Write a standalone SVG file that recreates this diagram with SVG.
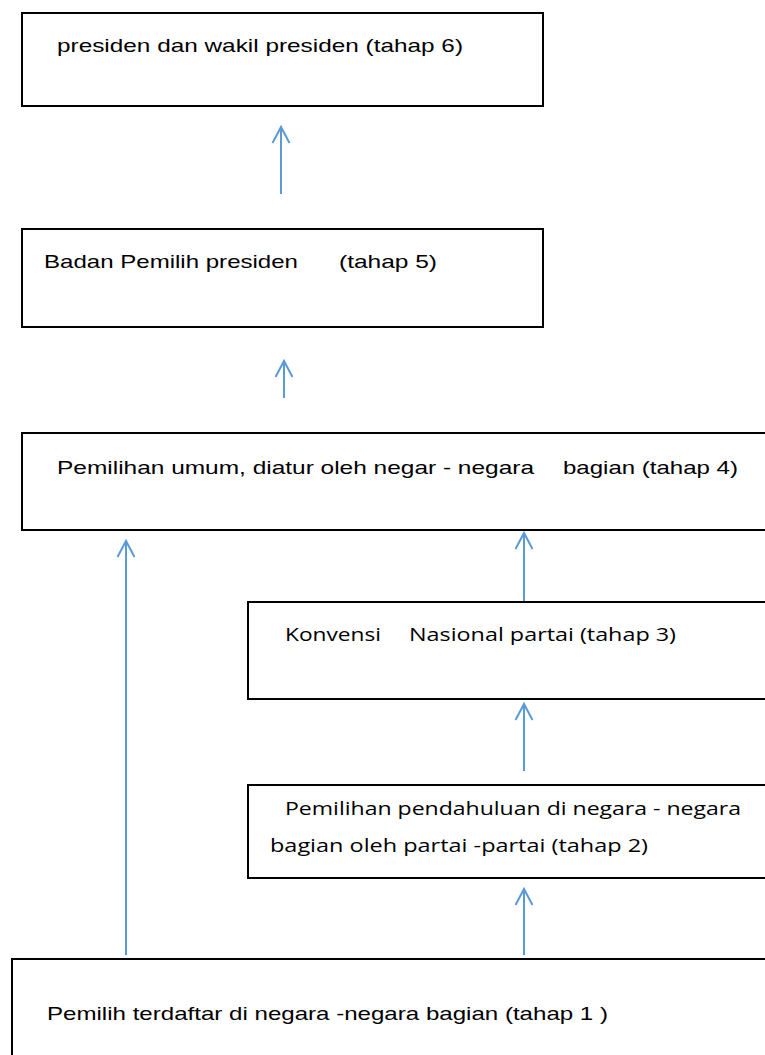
<svg xmlns="http://www.w3.org/2000/svg" width="765" height="1055" viewBox="0 0 765 1055">
<defs>
<style>
.box{fill:#fff;stroke:#000;stroke-width:2}
.t{font-family:"Liberation Sans","Open Sans",sans-serif;font-size:19px;fill:#000}
.u{font-family:"Open Sans","Liberation Sans",sans-serif;font-size:18px;fill:#000}
.c{fill:none;stroke:#5B9BD5;stroke-width:2}
</style>
<marker id="ah" viewBox="0 0 20 20" refX="17" refY="10" markerWidth="20" markerHeight="20" markerUnits="userSpaceOnUse" orient="auto">
<path d="M1,1.5 L17,10 L1,18.5" fill="none" stroke="#5B9BD5" stroke-width="2"/>
</marker>
</defs>
<rect width="765" height="1055" fill="#fff"/>
<g id="node6">
<rect class="box" x="22" y="13" width="521" height="93"/>
<text class="t" x="57" y="52" textLength="406" lengthAdjust="spacingAndGlyphs">presiden dan wakil presiden (tahap 6)</text>
</g>
<g id="node5">
<rect class="box" x="22" y="229" width="521" height="98"/>
<text class="t" x="44" y="268" textLength="254" lengthAdjust="spacingAndGlyphs">Badan Pemilih presiden</text>
<text class="t" x="339" y="268" textLength="98" lengthAdjust="spacingAndGlyphs">(tahap 5)</text>
</g>
<g id="node4">
<rect class="box" x="22" y="433" width="760" height="97"/>
<text class="t" x="57" y="474" textLength="477" lengthAdjust="spacingAndGlyphs">Pemilihan umum, diatur oleh negar - negara</text>
<text class="t" x="563" y="474" textLength="175" lengthAdjust="spacingAndGlyphs">bagian (tahap 4)</text>
</g>
<g id="node3">
<rect class="box" x="248" y="602" width="534" height="97"/>
<text class="u" x="285" y="641" textLength="96" lengthAdjust="spacingAndGlyphs">Konvensi</text>
<text class="u" x="409" y="641" textLength="267" lengthAdjust="spacingAndGlyphs">Nasional partai (tahap 3)</text>
</g>
<g id="node2">
<rect class="box" x="248" y="785" width="534" height="93"/>
<text class="u" x="285" y="815" textLength="456" lengthAdjust="spacingAndGlyphs">Pemilihan pendahuluan di negara - negara</text>
<text class="u" x="270" y="852" textLength="378" lengthAdjust="spacingAndGlyphs">bagian oleh partai -partai (tahap 2)</text>
</g>
<g id="node1">
<rect class="box" x="12" y="959" width="770" height="110"/>
<text class="t" x="47" y="1020" textLength="561" lengthAdjust="spacingAndGlyphs">Pemilih terdaftar di negara -negara bagian (tahap 1 )</text>
</g>
<g id="connectors">
<line class="c" x1="281" y1="194" x2="281" y2="127" marker-end="url(#ah)"/>
<line class="c" x1="284" y1="398" x2="284" y2="361" marker-end="url(#ah)"/>
<line class="c" x1="126" y1="955" x2="126" y2="541" marker-end="url(#ah)"/>
<line class="c" x1="524" y1="601" x2="524" y2="533" marker-end="url(#ah)"/>
<line class="c" x1="524" y1="771" x2="524" y2="704" marker-end="url(#ah)"/>
<line class="c" x1="524" y1="955" x2="524" y2="889" marker-end="url(#ah)"/>
</g>
</svg>
